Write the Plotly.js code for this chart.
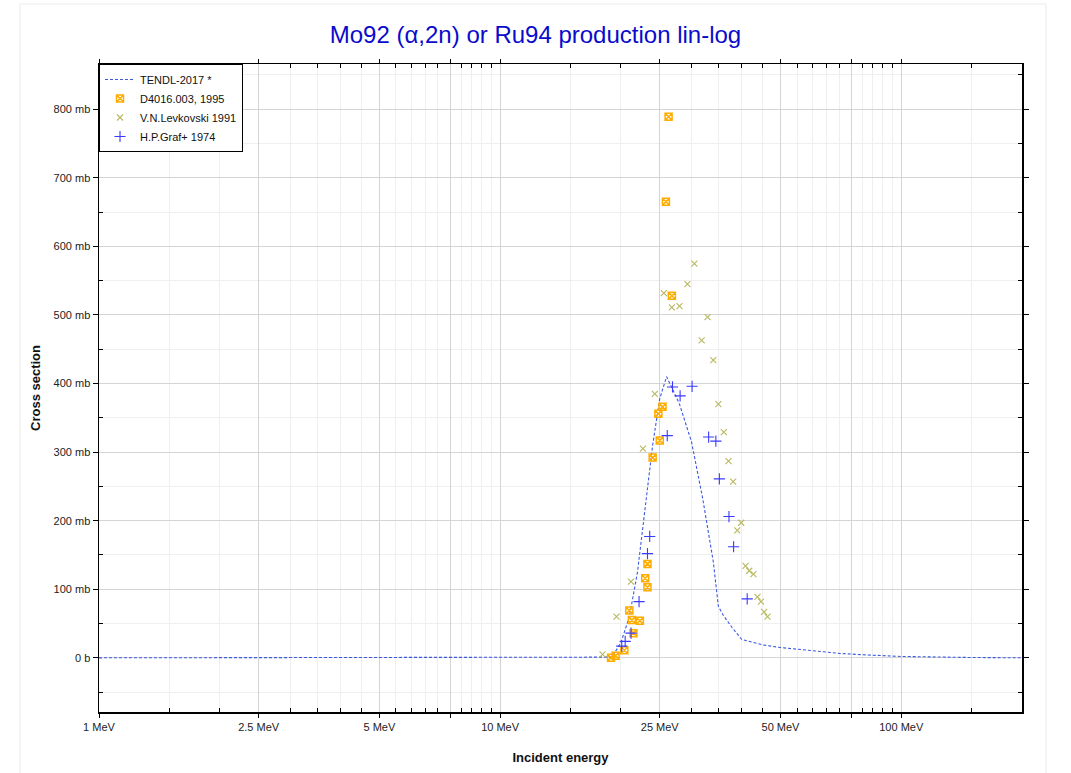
<!DOCTYPE html>
<html>
<head>
<meta charset="utf-8">
<script src="https://cdn.plot.ly/plotly-3.0.1.min.js"></script>
<style>
  html, body { margin: 0; padding: 0; background: #fff; }
  #chart { width: 1071px; height: 773px; }
</style>
</head>
<body>
<div id="chart"></div>
<script>
// ---- Data ----
const tendlEnergy = [1, 5, 10, 15, 18, 19, 20, 21, 22, 23, 24, 25, 26, 27, 28, 30, 32, 34, 35, 36, 38, 40, 45, 50, 60, 70, 80, 100, 150, 200];
const tendlXs     = [0, 0, 0, 0, 0, 1, 22, 60, 125, 220, 310, 378, 410, 390, 370, 315, 232, 140, 75, 62, 43, 27, 19, 15, 10, 6.5, 4.5, 2, 0.5, 0];

const d4016Energy = [26.3, 25.9, 26.8, 25.4, 24.8, 25.0, 24.0, 23.3, 23.0, 23.3, 21.0, 21.3, 22.3, 21.5, 20.4, 19.4, 18.9];
const d4016Xs     = [789, 665, 528, 366, 356, 317, 292, 137, 116, 103, 69, 55, 54, 36, 11, 3, 0];

const levEnergy = [30.5, 29.3, 25.6, 26.8, 28.0, 32.9, 31.8, 34.0, 24.3, 35.0, 36.1, 22.7, 37.1, 38.1, 39.9, 39.0, 40.9, 41.8, 42.8, 43.8, 44.7, 45.5, 46.4, 21.2, 19.5, 18.0];
const levXs     = [575, 545, 532, 511, 513, 497, 463, 434, 385, 370, 329, 305, 287, 257, 197, 186, 134, 127, 122, 89, 82, 67, 60, 111, 60, 5];

const grafEnergy = [26.9, 28.1, 30.1, 26.1, 33.1, 34.5, 35.2, 37.2, 38.2, 41.3, 23.6, 23.3, 22.2, 21.2, 20.5, 20.1];
const grafXs     = [395, 382, 396, 324, 322, 316, 261, 206, 162, 86, 177, 152, 82, 36, 24, 17];

const xTickVals  = [1, 2.5, 5, 7.5, 10, 25, 50, 75, 100];
const xTickText  = ['1 MeV', '2.5 MeV', '5 MeV', '', '10 MeV', '25 MeV', '50 MeV', '', '100 MeV'];
const xMinorVals = [1.5, 2, 3, 3.5, 4, 4.5, 5.5, 6, 6.5, 7, 8, 8.5, 9, 9.5,
                    15, 20, 30, 35, 40, 45, 55, 60, 65, 70, 80, 85, 90, 95, 150];

const yTickVals = [0, 100, 200, 300, 400, 500, 600, 700, 800];
const yTickText = ['0 b', '100 mb', '200 mb', '300 mb', '400 mb', '500 mb', '600 mb', '700 mb', '800 mb'];

const seriesNames = ['TENDL-2017 *', 'D4016.003, 1995', 'V.N.Levkovski 1991', 'H.P.Graf+ 1974'];

// ---- Traces ----
const traces = [
  {
    x: tendlEnergy, y: tendlXs, name: seriesNames[0], type: 'scatter', mode: 'lines',
    line: { color: '#3a5ae0', width: 1.1, dash: '3px,2px' }
  },
  {
    x: d4016Energy, y: d4016Xs, name: seriesNames[1], type: 'scatter', mode: 'markers',
    marker: { symbol: 'square-x-open', size: 7, color: '#ffad00', line: { color: '#ffad00', width: 1.5 } }
  },
  {
    x: levEnergy, y: levXs, name: seriesNames[2], type: 'scatter', mode: 'markers',
    marker: { symbol: 'x-thin-open', size: 6, color: '#b8b860', line: { color: '#b8b860', width: 1.1 } }
  },
  {
    x: grafEnergy, y: grafXs, name: seriesNames[3], type: 'scatter', mode: 'markers',
    marker: { symbol: 'cross-thin-open', size: 8, color: '#3a3aff', line: { color: '#3a3aff', width: 1.1 } }
  }
];

const fontFam = '"Liberation Sans", Arial, Helvetica, sans-serif';

const layout = {
  width: 1071, height: 773,
  margin: { l: 99, r: 49, t: 64, b: 61, pad: 0 },
  paper_bgcolor: '#ffffff', plot_bgcolor: '#ffffff',
  font: { family: fontFam, size: 11, color: '#222' },
  showlegend: true,
  title: {
    text: 'Mo92 (α,2n) or Ru94 production lin-log',
    font: { family: fontFam, size: 24, color: '#0b0bcc' },
    x: 0.5, xref: 'container', xanchor: 'center',
    y: 0.955, yref: 'container', yanchor: 'middle'
  },
  xaxis: {
    type: 'log',
    range: [0, Math.log10(200)],
    tickmode: 'array', tickvals: xTickVals, ticktext: xTickText,
    ticks: 'outside', ticklen: 4, tickwidth: 1, tickcolor: '#000',
    showline: true, linecolor: '#000', linewidth: 1.5, mirror: 'allticks',
    showgrid: true, gridcolor: '#d4d4d4', gridwidth: 1,
    zeroline: false,
    tickfont: { family: fontFam, size: 11, color: '#222' },
    minor: {
      tickmode: 'array', tickvals: xMinorVals,
      ticks: 'inside', ticklen: 4, tickcolor: '#000', tickwidth: 1,
      showgrid: true, gridcolor: '#efefef', gridwidth: 1
    },
    title: { text: '<b>Incident energy</b>', font: { family: fontFam, size: 13, color: '#111' }, standoff: 21 }
  },
  yaxis: {
    range: [-79, 866],
    tickmode: 'array', tickvals: yTickVals, ticktext: yTickText,
    ticks: 'outside', ticklen: 5, tickwidth: 1, tickcolor: '#000',
    showline: true, linecolor: '#000', linewidth: 1.5, mirror: 'allticks',
    showgrid: true, gridcolor: '#d4d4d4', gridwidth: 1,
    zeroline: false,
    tickfont: { family: fontFam, size: 11, color: '#222' },
    minor: {
      tickmode: 'linear', tick0: -50, dtick: 100,
      ticks: 'inside', ticklen: 4, tickcolor: '#000', tickwidth: 1,
      showgrid: true, gridcolor: '#efefef', gridwidth: 1
    },
    title: { text: '<b>Cross section</b>', font: { family: fontFam, size: 13, color: '#111' }, standoff: 10 }
  },
  legend: {
    x: 0, y: 1, xanchor: 'left', yanchor: 'top',
    bgcolor: '#ffffff', bordercolor: '#000', borderwidth: 1,
    font: { family: fontFam, size: 11, color: '#111' },
    tracegroupgap: 0
  },
  shapes: [
    {
      type: 'rect', xref: 'paper', yref: 'paper',
      x0: -0.0856, x1: 1.026, y0: -0.12, y1: 1.0926,
      line: { color: '#ebebeb', width: 1 }, fillcolor: 'rgba(0,0,0,0)', layer: 'below'
    }
  ]
};

Plotly.newPlot('chart', traces, layout, { displayModeBar: false, staticPlot: true });
</script>
</body>
</html>
